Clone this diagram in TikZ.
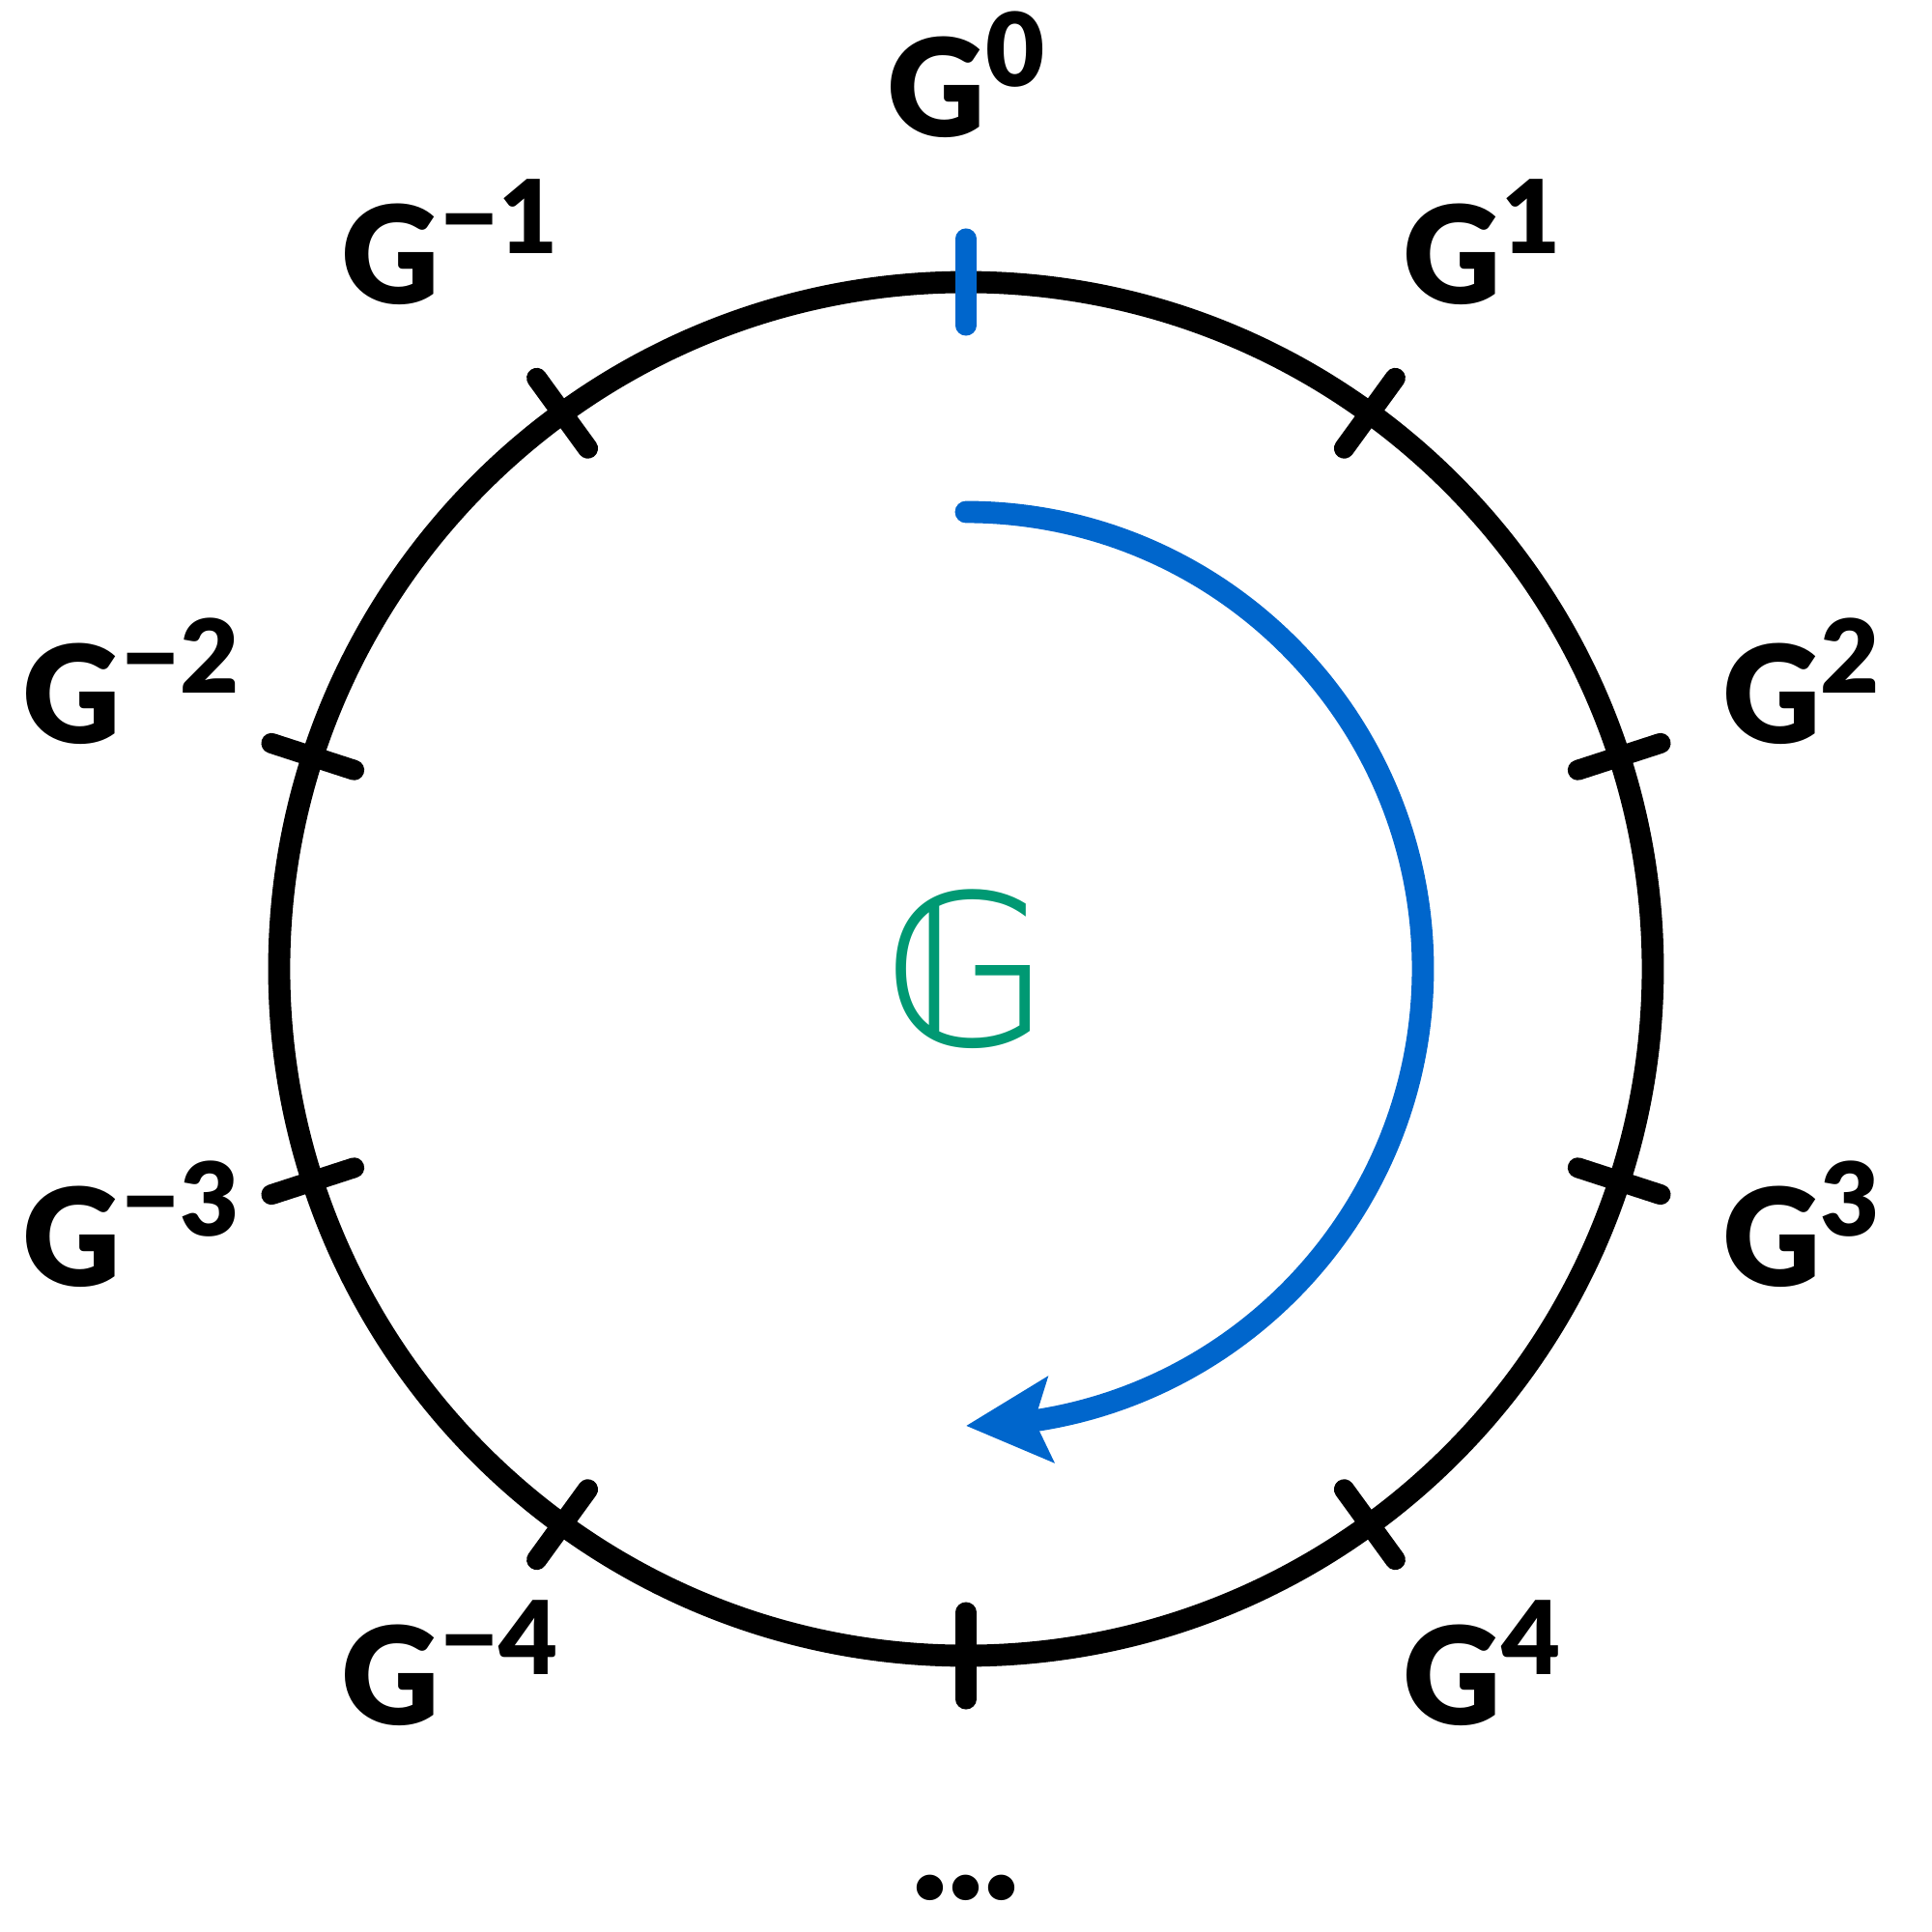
\documentclass[tikz,border=0pt]{standalone}
\usepackage{fontspec}
\setmainfont{Lato}[BoldFont={Lato Black}]
\newfontfamily\symfont{DejaVu Sans}
\usepackage{xcolor}
\usetikzlibrary{arrows.meta,bending}

\definecolor{cycleBlue}{HTML}{0066CC}
\definecolor{cycleGreen}{HTML}{009973}
\newcommand{\powlabel}[1]{G\raisebox{0.52cm}{\fontsize{30}{30}\selectfont #1}}

\begin{document}
\begin{tikzpicture}[node distance=2cm]
% Define styles
\tikzstyle{ring}=[line width=6.5pt, draw=black]
\tikzstyle{tickMark}=[line width=6pt, line cap=round, draw=black]
\tikzstyle{powerLabel}=[inner sep=0pt, yshift=0.17cm, font=\fontsize{40}{40}\selectfont\bfseries]
\tikzstyle{arrow}=[draw=cycleBlue, line width=6.5pt, line cap=round, -{Stealth[length=0.87cm, width=0.87cm, inset=0.16cm, flex, fill=cycleBlue]}]

\useasboundingbox (-10,-9.97) rectangle (10,10.03);

% Draw main circle
\coordinate (center) at (0,0);
\draw[ring] (center) circle (7.11cm);

% Ticks
\foreach \k in {1,...,9} {
  \draw[tickMark] ({90-36*\k}:6.66) -- ({90-36*\k}:7.56);
}
\draw[tickMark, draw=cycleBlue] (90:6.66) -- (90:7.56);

% Labels
\node[powerLabel] (g0) at (90:9.09) {\powlabel{0}};
\foreach \k in {1,...,4} {
  \node[powerLabel] (gp\k) at ({90-36*\k}:9.09) {\powlabel{\k}};
  \node[powerLabel] (gm\k) at ({90+36*\k}:9.09) {\powlabel{−\k}};
}
\node[powerLabel, yshift=-0.17cm, font=\fontsize{44}{44}\selectfont\bfseries] (dots) at (0,-9.51) {...};

% Group symbol
\node[text=cycleGreen, font=\symfont\fontsize{62}{62}\selectfont] (group) at (center) {𝔾};

% Arrow
\coordinate (arcStart) at (90:4.73);
\draw[arrow] (arcStart) arc[start angle=90, end angle=-90, radius=4.73];
\end{tikzpicture}
\end{document}
